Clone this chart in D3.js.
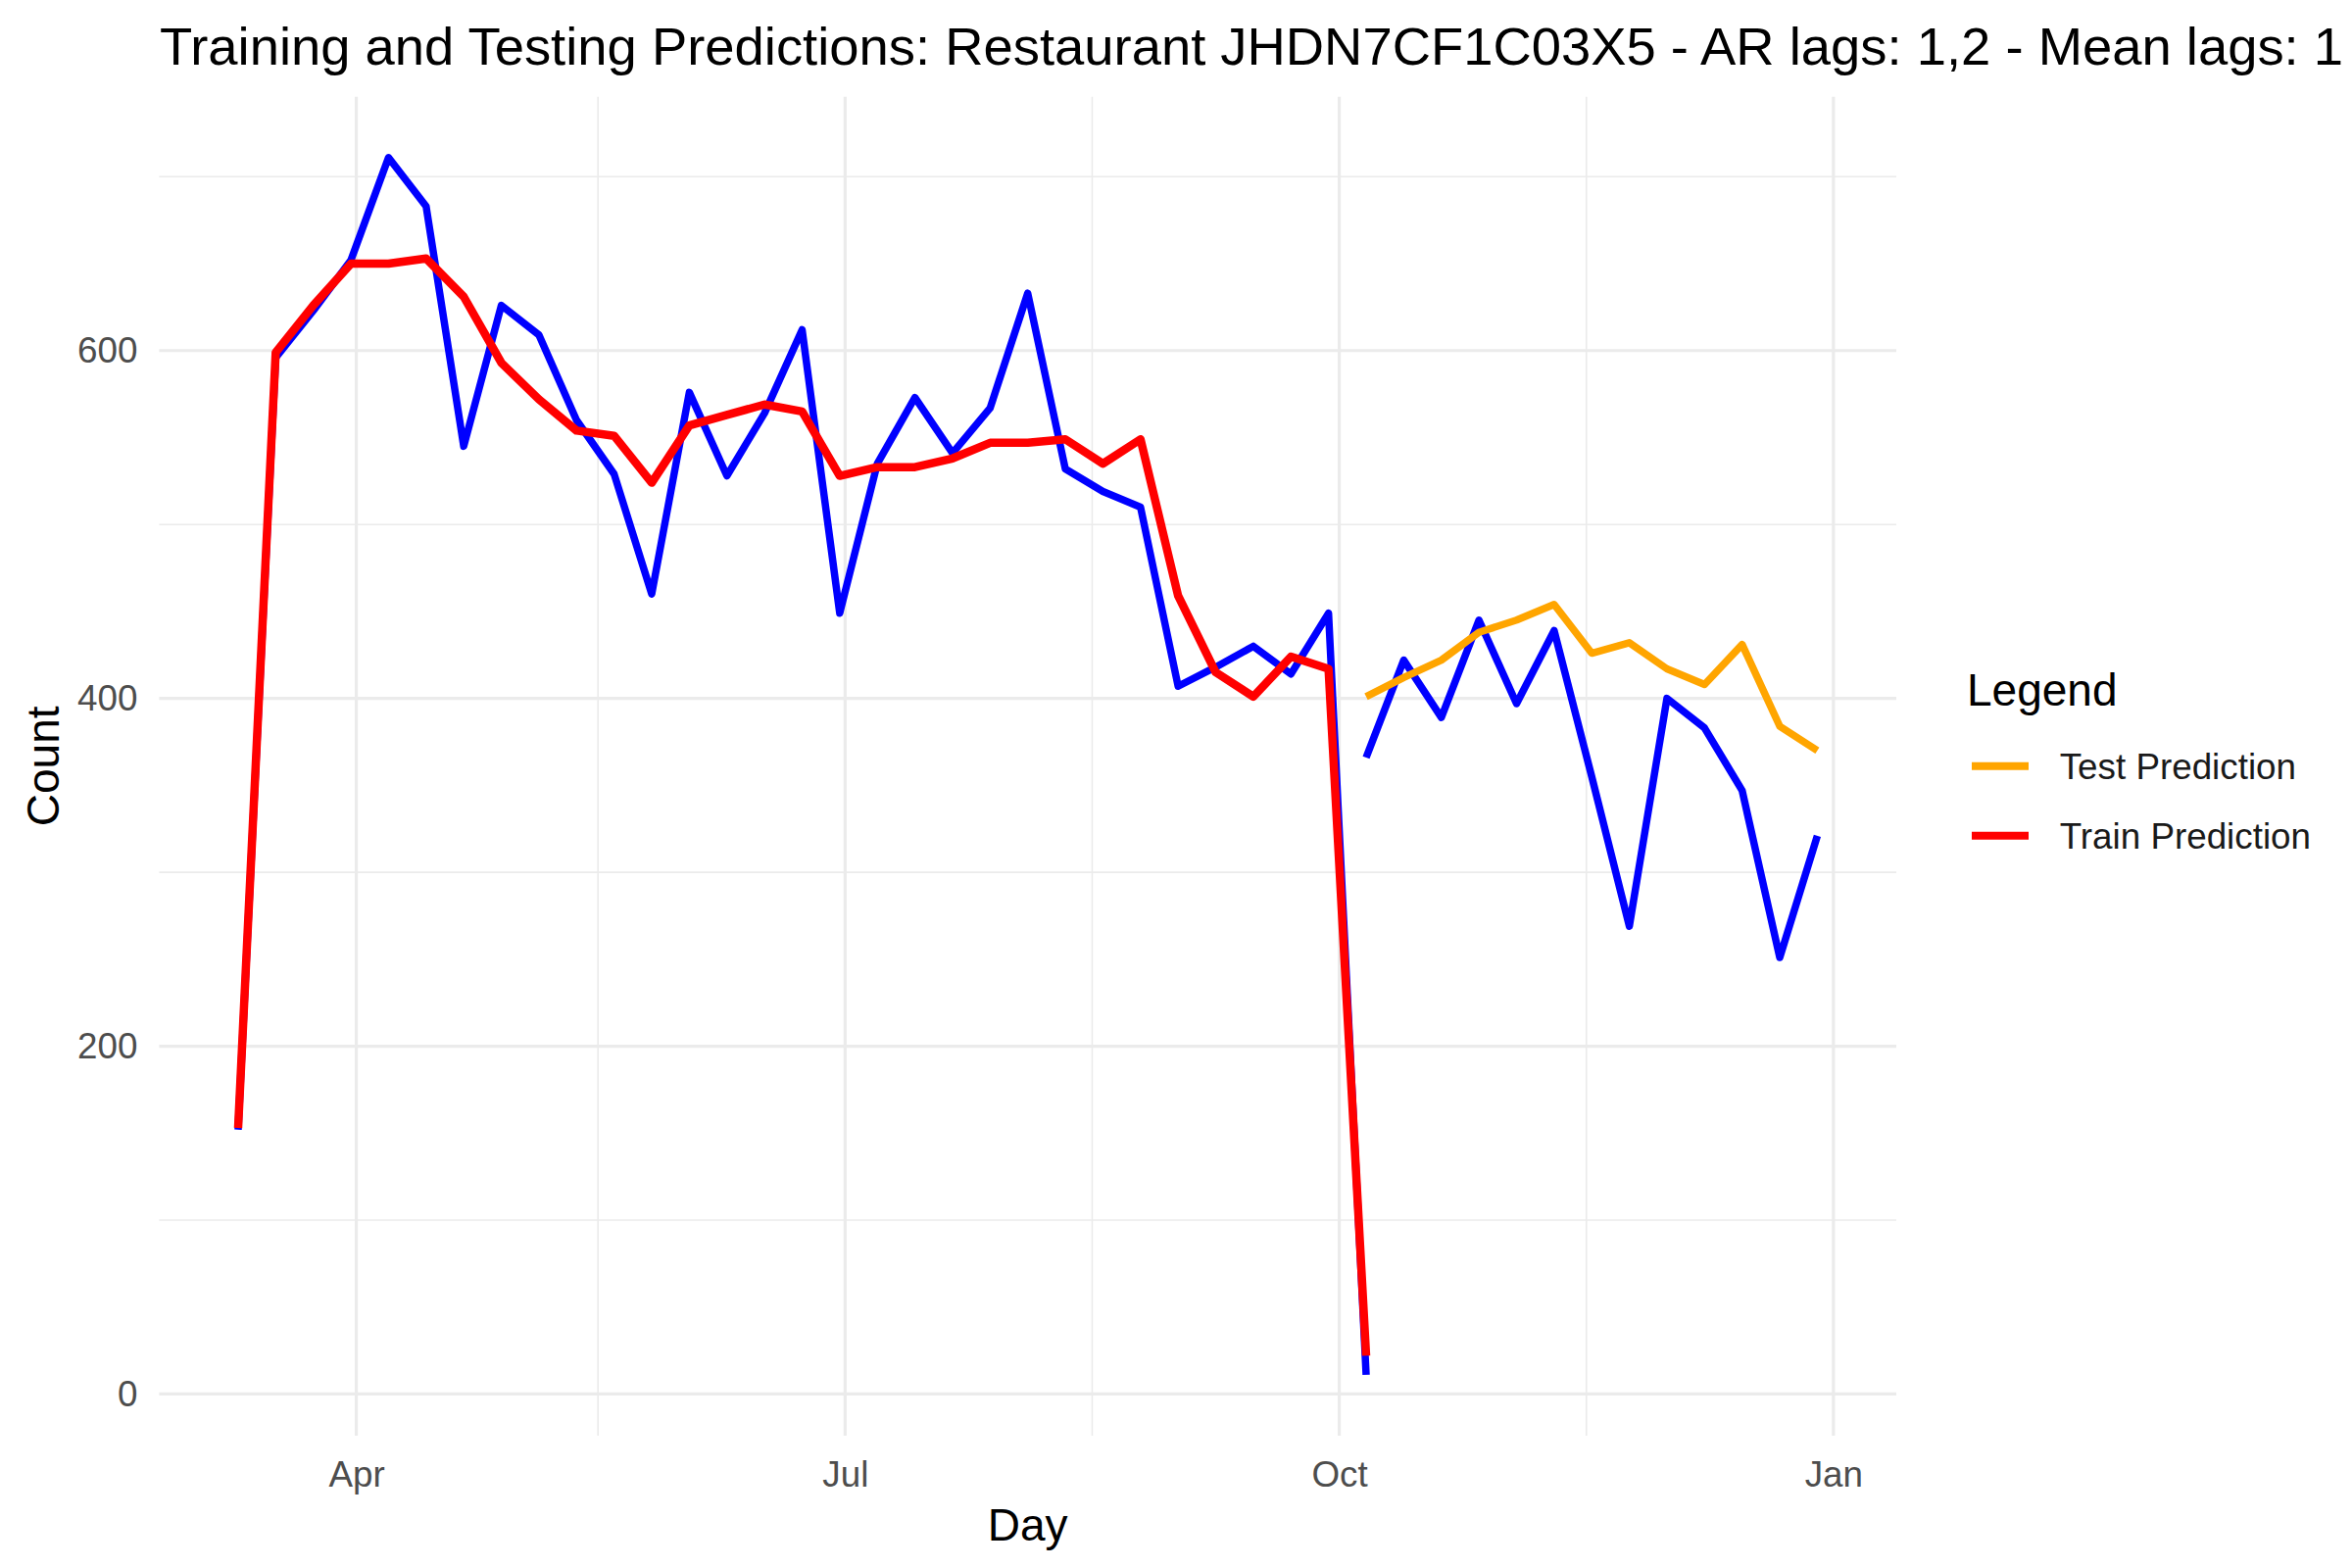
<!DOCTYPE html>
<html>
<head>
<meta charset="utf-8">
<script src="https://cdn.jsdelivr.net/npm/d3@7"></script>
<style>
  html, body { margin: 0; padding: 0; background: #ffffff; overflow: hidden; }
  svg { display: block; font-family: "Liberation Sans", Arial, sans-serif; }
</style>
</head>
<body>
<svg id="chart" width="2400" height="1600"></svg>
<script>
// ---------------- data ----------------
const trainDays = ["2023-03-10","2023-03-17","2023-03-24","2023-03-31","2023-04-07","2023-04-14","2023-04-21","2023-04-28",
  "2023-05-05","2023-05-12","2023-05-19","2023-05-26","2023-06-02","2023-06-09","2023-06-16","2023-06-23","2023-06-30",
  "2023-07-07","2023-07-14","2023-07-21","2023-07-28","2023-08-04","2023-08-11","2023-08-18","2023-08-25",
  "2023-09-01","2023-09-08","2023-09-15","2023-09-22","2023-09-29","2023-10-06"];
const trainActual = [152, 596, 623, 652, 711, 683, 545, 626, 609, 560, 529, 460, 576, 528, 564, 612, 449,
  535, 573, 541, 567, 633, 532, 519, 510, 407, 418, 430, 414, 449, 11];
const trainPrediction = [153, 599, 626, 650, 650, 653, 631, 593, 572, 554, 551, 524, 557, 563, 569, 565, 528,
  533, 533, 538, 547, 547, 549, 535, 549, 459, 415, 401, 424, 417, 22];

const testDays = ["2023-10-06","2023-10-13","2023-10-20","2023-10-27","2023-11-03","2023-11-10","2023-11-17",
  "2023-11-24","2023-12-01","2023-12-08","2023-12-15","2023-12-22","2023-12-29"];
const testActual = [366, 422, 389, 445, 397, 439, 355, 269, 400, 383, 347, 251, 321];
const testPrediction = [401, 412, 422, 438, 445, 454, 426, 432, 417, 408, 431, 384, 370];

const yMajorTicks = [0, 200, 400, 600];
const yMinorTicks = [100, 300, 500, 700];
const xMajorTickDays = ["2023-04-01","2023-07-01","2023-10-01","2024-01-01"];
const xMajorTickLabels = ["Apr","Jul","Oct","Jan"];
const xMinorTickDays = ["2023-05-16","2023-08-16","2023-11-16"];

const legendLabels = ["Test Prediction","Train Prediction"];
const legendColors = ["#FFA500","#FF0000"];

const titleText = "Training and Testing Predictions: Restaurant JHDN7CF1C03X5 - AR lags: 1,2 - Mean lags: 1";

// ---------------- setup ----------------
const parse = d3.timeParse("%Y-%m-%d");
const svg = d3.select("#chart");
svg.append("rect").attr("width", 2400).attr("height", 1600).attr("fill", "#ffffff");

const panel = { left: 162.4, right: 1935, top: 98.7, bottom: 1465 };
const base = 46;

const trainData = trainDays.map((d, i) => ({ date: parse(d), actual: trainActual[i], pred: trainPrediction[i] }));
const testData = testDays.map((d, i) => ({ date: parse(d), actual: testActual[i], pred: testPrediction[i] }));
const allDates = trainData.concat(testData).map(d => d.date);
const allVals = trainActual.concat(trainPrediction, testActual, testPrediction);

const dExt = d3.extent(allDates);
const dPad = (dExt[1] - dExt[0]) * 0.05;
const x = d3.scaleTime()
  .domain([new Date(+dExt[0] - dPad), new Date(+dExt[1] + dPad)])
  .range([panel.left, panel.right]);

const vExt = d3.extent(allVals);
const vPad = (vExt[1] - vExt[0]) * 0.05;
const y = d3.scaleLinear()
  .domain([vExt[0] - vPad, vExt[1] + vPad])
  .range([panel.bottom, panel.top]);

// ---------------- grid ----------------
const grid = svg.append("g");
grid.selectAll("line.ymin").data(yMinorTicks).join("line")
  .attr("x1", panel.left).attr("x2", panel.right)
  .attr("y1", d => y(d)).attr("y2", d => y(d))
  .attr("stroke", "#EBEBEB").attr("stroke-width", 1.6);
grid.selectAll("line.xmin").data(xMinorTickDays).join("line")
  .attr("y1", panel.top).attr("y2", panel.bottom)
  .attr("x1", d => x(parse(d))).attr("x2", d => x(parse(d)))
  .attr("stroke", "#EBEBEB").attr("stroke-width", 1.6);
grid.selectAll("line.ymaj").data(yMajorTicks).join("line")
  .attr("x1", panel.left).attr("x2", panel.right)
  .attr("y1", d => y(d)).attr("y2", d => y(d))
  .attr("stroke", "#EBEBEB").attr("stroke-width", 3.2);
grid.selectAll("line.xmaj").data(xMajorTickDays).join("line")
  .attr("y1", panel.top).attr("y2", panel.bottom)
  .attr("x1", d => x(parse(d))).attr("x2", d => x(parse(d)))
  .attr("stroke", "#EBEBEB").attr("stroke-width", 3.2);

// ---------------- axes ----------------
const yAxis = svg.append("g")
  .attr("transform", `translate(${panel.left},0)`)
  .call(d3.axisLeft(y).tickValues(yMajorTicks).tickSize(0).tickPadding(22).tickFormat(d3.format("d")));
yAxis.select(".domain").remove();
yAxis.selectAll("text").attr("font-size", base * 0.8).attr("fill", "#4D4D4D")
  .attr("font-family", "'Liberation Sans', Arial, sans-serif");

const xAxis = svg.append("g")
  .attr("transform", `translate(0,${panel.bottom})`)
  .call(d3.axisBottom(x).tickValues(xMajorTickDays.map(parse)).tickSize(0).tickPadding(26)
    .tickFormat((d, i) => xMajorTickLabels[i]));
xAxis.select(".domain").remove();
xAxis.selectAll("text").attr("font-size", base * 0.8).attr("fill", "#4D4D4D")
  .attr("font-family", "'Liberation Sans', Arial, sans-serif");

// axis titles
svg.append("text")
  .attr("x", (panel.left + panel.right) / 2).attr("y", 1572)
  .attr("text-anchor", "middle").attr("font-size", base).attr("fill", "#000000")
  .text("Day");
svg.append("text")
  .attr("transform", `translate(60,${(panel.top + panel.bottom) / 2}) rotate(-90)`)
  .attr("text-anchor", "middle").attr("font-size", base).attr("fill", "#000000")
  .text("Count");

// title
svg.append("text")
  .attr("x", 163).attr("y", 66)
  .attr("font-size", 54.4).attr("fill", "#000000")
  .text(titleText);

// ---------------- lines ----------------
const line = (acc) => d3.line().x(d => x(d.date)).y(d => y(acc(d)));
const plot = svg.append("g");
plot.append("path").datum(trainData)
  .attr("d", line(d => d.actual))
  .attr("fill", "none").attr("stroke", "#0000FF").attr("stroke-width", 7.5)
  .attr("stroke-linejoin", "round").attr("stroke-linecap", "butt");
plot.append("path").datum(testData)
  .attr("d", line(d => d.actual))
  .attr("fill", "none").attr("stroke", "#0000FF").attr("stroke-width", 7.5)
  .attr("stroke-linejoin", "round").attr("stroke-linecap", "butt");
plot.append("path").datum(trainData)
  .attr("d", line(d => d.pred))
  .attr("fill", "none").attr("stroke", "#FF0000").attr("stroke-width", 8.5)
  .attr("stroke-linejoin", "round").attr("stroke-linecap", "butt");
plot.append("path").datum(testData)
  .attr("d", line(d => d.pred))
  .attr("fill", "none").attr("stroke", "#FFA500").attr("stroke-width", 7.5)
  .attr("stroke-linejoin", "round").attr("stroke-linecap", "butt");

// ---------------- legend ----------------
const legend = svg.append("g");
legend.append("text").attr("x", 2007).attr("y", 720)
  .attr("font-size", base).attr("fill", "#000000").text("Legend");
const keyY = [781.7, 852.7];
const items = legend.selectAll("g.item").data(legendLabels).join("g")
  .attr("transform", (d, i) => `translate(0,${keyY[i]})`);
items.append("line")
  .attr("x1", 2012).attr("x2", 2070).attr("y1", 0).attr("y2", 0)
  .attr("stroke", (d, i) => legendColors[i]).attr("stroke-width", 8);
items.append("text")
  .attr("x", 2101.7).attr("y", 13.5)
  .attr("font-size", base * 0.8).attr("fill", "#1A1A1A")
  .text(d => d);
</script>
</body>
</html>
